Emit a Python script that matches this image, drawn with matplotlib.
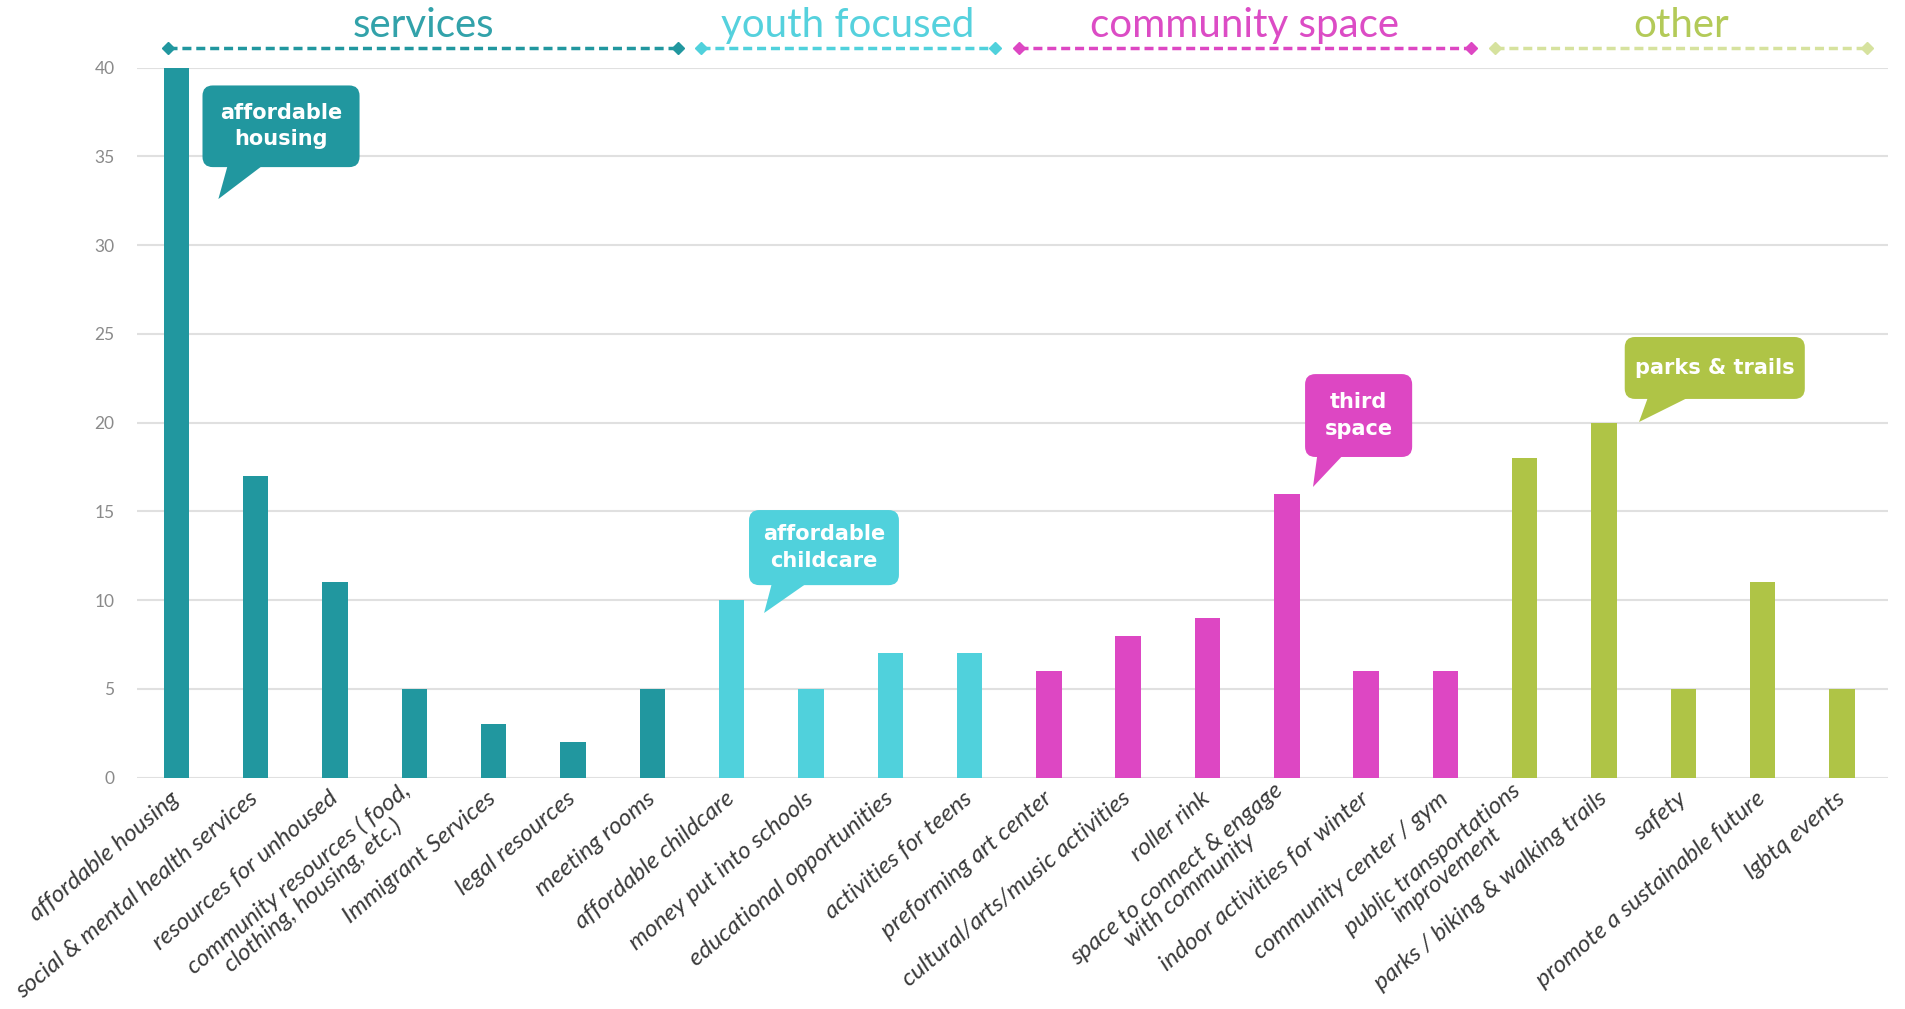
import matplotlib.pyplot as plt
import numpy as np
from matplotlib.patches import FancyBboxPatch, Polygon

categories = ['affordable housing', 'social & mental health services', 'resources for unhoused',
              'community resources ( food,\nclothing, housing, etc.)', 'Immigrant Services',
              'legal resources', 'meeting rooms', 'affordable childcare', 'money put into schools',
              'educational opportunities', 'activities for teens', 'preforming art center',
              'cultural/arts/music activities', 'roller rink',
              'space to connect & engage\nwith community', 'indoor activities for winter',
              'community center / gym', 'public transportations\nimprovement',
              'parks / biking & walking trails', 'safety', 'promote a sustainable future',
              'lgbtq events']
counts = [40, 17, 11, 5, 3, 2, 5, 10, 5, 7, 7, 6, 8, 9, 16, 6, 6, 18, 20, 5, 11, 5]

group_names = ['services', 'youth focused', 'community space', 'other']
group_sizes = [7, 4, 6, 5]
bar_colors = ['#21979f', '#50d1dc', '#dd47c3', '#afc446']
head_colors = ['#32a2aa', '#55d1dd', '#dc4cc5', '#b3ca58']
line_colors = ['#21979f', '#50d1dc', '#dd47c3', '#d6e29e']

callouts = ['affordable\nhousing', 'affordable\nchildcare', 'third\nspace', 'parks & trails']
callout_colors = ['#21979f', '#50d1dc', '#dd47c3', '#afc446']

plt.rcParams['font.family'] = ['Lato', 'DejaVu Sans']

fig = plt.figure(figsize=(19.06, 10.09), dpi=100)
ax = fig.add_axes([0.0717, 0.2292, 0.9906 - 0.0717, 0.9329 - 0.2292])

x = np.arange(len(categories))
colors = []
for c, n in zip(bar_colors, group_sizes):
    colors += [c] * n
ax.bar(x, counts, width=0.32, color=colors, zorder=3)

ax.set_xlim(-0.5, 21.58)
ax.set_ylim(0, 40)
ax.set_yticks(range(0, 41, 5))
ax.grid(axis='y', color='#e0e0e0', linewidth=1.5, zorder=0)
for s in ax.spines.values():
    s.set_visible(False)
ax.tick_params(axis='y', length=0, pad=16, labelsize=12.5, labelcolor='#8a8a8a')
ax.tick_params(axis='x', length=0, pad=13)
ax.set_xticks(x)
ax.set_xticklabels(categories, rotation=40, ha='right', va='center', rotation_mode='anchor',
                   fontsize=17.5, style='italic', color='#3a3a3a')
for t in ax.get_xticklabels():
    t.set_multialignment('center')
    t.set_linespacing(1.0)

# group headers
start = 0
for name, n, hc, lc in zip(group_names, group_sizes, head_colors, line_colors):
    x0 = max(start - 0.38, -0.1)
    x1 = start + n - 1 + 0.32
    ax.plot([x0, x1], [41.1, 41.1], color=lc, lw=2.5, ls=(0, (2.6, 1.4)), clip_on=False,
            marker='D', markersize=6, markevery=[0, 1], zorder=4)
    ax.text((x0 + x1) / 2, 42.35, name, color=hc, fontsize=29, fontweight='normal',
            ha='center', va='center', clip_on=False)
    start += n

# speech bubble callouts
p0 = ax.transData.transform((0, 0))
p1 = ax.transData.transform((1, 1))
aspect = (p1[0] - p0[0]) / (p1[1] - p0[1])
boxes = [(0.33, 34.4, 2.31, 39.0, 0.53, 32.6, 0.66, 1.15),
         (7.22, 10.85, 9.11, 15.08, 7.41, 9.28, 7.52, 8.01),
         (14.23, 18.07, 15.58, 22.74, 14.33, 16.38, 14.39, 14.75),
         (18.26, 21.34, 20.53, 24.83, 18.44, 20.04, 18.57, 19.16)]
for txt, col, (bx0, by0, bx1, by1, tx, ty, b0, b1) in zip(callouts, callout_colors, boxes):
    box = FancyBboxPatch((bx0, by0), bx1 - bx0, by1 - by0,
                         boxstyle='round,pad=0,rounding_size=0.13',
                         mutation_aspect=aspect, fc=col, ec='none', zorder=5)
    ax.add_patch(box)
    ax.add_patch(Polygon([(b0, by0 + 0.3), (tx, ty), (b1, by0 + 0.3)], closed=True,
                         fc=col, ec='none', zorder=5))
    ax.text((bx0 + bx1) / 2, (by0 + by1) / 2, txt, color='white', fontsize=15,
            fontweight='bold', family='DejaVu Sans', ha='center', va='center',
            linespacing=1.4, zorder=6)

fig.savefig('out.png', dpi=100)
